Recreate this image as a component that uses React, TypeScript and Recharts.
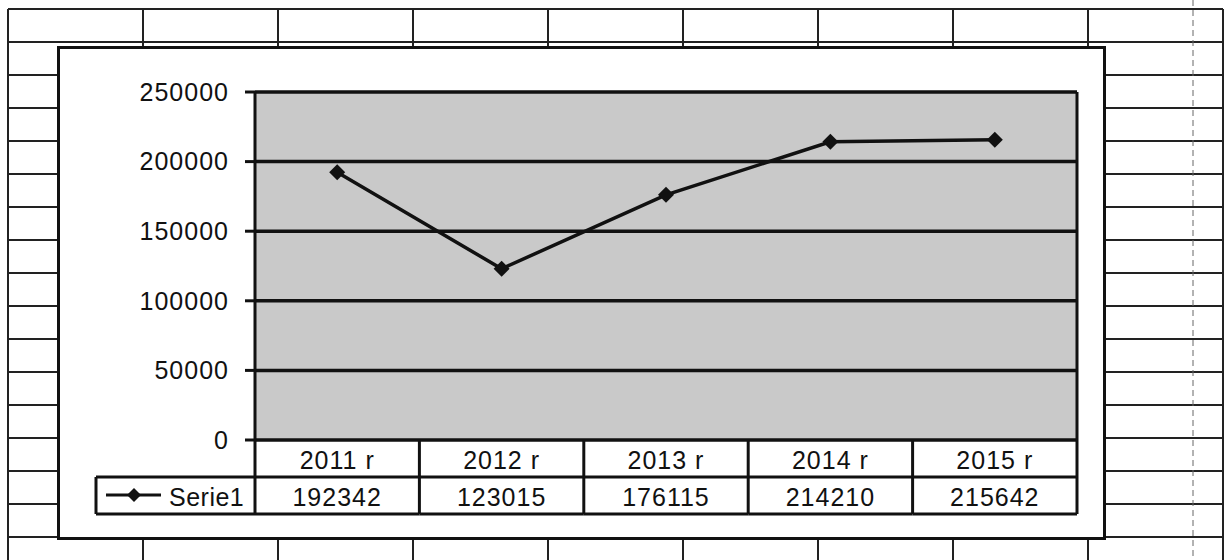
import { CartesianGrid, ComposedChart, Line, XAxis, YAxis } from 'recharts'

const years = ['2011 r', '2012 r', '2013 r', '2014 r', '2015 r']
const serie1 = [192342, 123015, 176115, 214210, 215642]
const yTicks = [0, 50000, 100000, 150000, 200000, 250000]
const seriesName = 'Serie1'

const data = years.map((year, i) => ({ year, value: serie1[i] }))

const FONT = '"Liberation Sans", Arial, sans-serif'
const INK = '#111'

// chart box on the page
const BOX_LEFT = 58
const BOX_TOP = 47
const BOX_W = 1044
const BOX_H = 489

const Y_AXIS_W = 197
const MARGIN = { top: 45, right: 24, left: 0, bottom: 22 }
const PLOT_W = BOX_W - Y_AXIS_W - MARGIN.right - 1
const COL_W = PLOT_W / years.length
const ROW_H = 37
const LEGEND_W = 159

function Diamond({ cx, cy, r = 8 }: { cx: number; cy: number; r?: number }) {
  return (
    <polygon
      points={`${cx},${cy - r} ${cx + r},${cy} ${cx},${cy + r} ${cx - r},${cy}`}
      fill={INK}
    />
  )
}

function TableTick(props: any) {
  const { x, y, index, payload } = props
  const half = COL_W / 2
  const left = x - half
  const right = x + half
  return (
    <g>
      <line x1={right} y1={y} x2={right} y2={y + ROW_H * 2} stroke={INK} strokeWidth={3} />
      <line x1={left} y1={y + ROW_H} x2={right} y2={y + ROW_H} stroke={INK} strokeWidth={3} />
      <line x1={left} y1={y + ROW_H * 2} x2={right} y2={y + ROW_H * 2} stroke={INK} strokeWidth={3} />
      <text x={x} y={y + 29} textAnchor="middle" fontSize={25} fontFamily={FONT} fill={INK} letterSpacing={1}>
        {payload.value}
      </text>
      <text x={x} y={y + ROW_H + 29} textAnchor="middle" fontSize={25} fontFamily={FONT} fill={INK} letterSpacing={1}>
        {serie1[index]}
      </text>
      {index === 0 && (
        <g>
          <line x1={left} y1={y} x2={left} y2={y + ROW_H * 2} stroke={INK} strokeWidth={3} />
          <line x1={left - LEGEND_W} y1={y + ROW_H} x2={left} y2={y + ROW_H} stroke={INK} strokeWidth={3} />
          <line x1={left - LEGEND_W} y1={y + ROW_H * 2} x2={left} y2={y + ROW_H * 2} stroke={INK} strokeWidth={3} />
          <line x1={left - LEGEND_W} y1={y + ROW_H} x2={left - LEGEND_W} y2={y + ROW_H * 2} stroke={INK} strokeWidth={3} />
          <line x1={left - LEGEND_W + 10} y1={y + ROW_H + 18} x2={left - LEGEND_W + 65} y2={y + ROW_H + 18} stroke={INK} strokeWidth={3} />
          <Diamond cx={left - LEGEND_W + 38} cy={y + ROW_H + 18} r={7} />
          <text x={left - LEGEND_W + 73} y={y + ROW_H + 29} fontSize={25} fontFamily={FONT} fill={INK} letterSpacing={0.5}>
            {seriesName}
          </text>
        </g>
      )}
    </g>
  )
}

function SheetGrid() {
  const rows = Array.from({ length: 17 }, (_, k) => 9 + 33 * k)
  const cols = Array.from({ length: 10 }, (_, k) => 8 + 135 * k)
  return (
    <svg width={1224} height={560} style={{ position: 'absolute', left: 0, top: 0 }}>
      {rows.map((y) => (
        <line key={`r${y}`} x1={8} y1={y} x2={1223} y2={y} stroke="#222" strokeWidth={2} />
      ))}
      {cols.map((x) => (
        <line key={`c${x}`} x1={x} y1={9} x2={x} y2={560} stroke="#222" strokeWidth={2} />
      ))}
      <line x1={1193} y1={0} x2={1193} y2={560} stroke="#666" strokeWidth={1} strokeDasharray="6 4" />
    </svg>
  )
}

export default function App() {
  return (
    <div
      style={{
        position: 'fixed',
        left: 0,
        top: 0,
        width: 1224,
        height: 560,
        background: '#fff',
        overflow: 'hidden',
        fontFamily: FONT,
      }}
    >
      <SheetGrid />
      <div
        style={{
          position: 'absolute',
          left: BOX_LEFT - 1,
          top: BOX_TOP - 1,
          width: BOX_W - 1,
          height: BOX_H - 1,
          border: `3px solid ${INK}`,
          background: '#fff',
        }}
      />
      <div style={{ position: 'absolute', left: BOX_LEFT, top: BOX_TOP }}>
        <ComposedChart width={BOX_W} height={BOX_H} data={data} margin={MARGIN}>
          <CartesianGrid
            yAxisId="left"
            vertical={false}
            stroke={INK}
            strokeWidth={3.5}
            fill="#c9c9c9"
            fillOpacity={1}
          />
          <XAxis
            dataKey="year"
            scale="point"
            padding={{ left: COL_W / 2, right: COL_W / 2 }}
            axisLine={false}
            tickLine={false}
            tickSize={0}
            tickMargin={0}
            height={74}
            interval={0}
            tick={(p: any) => <TableTick {...p} />}
          />
          <YAxis
            yAxisId="left"
            width={Y_AXIS_W}
            domain={[0, 250000]}
            ticks={yTicks}
            interval={0}
            axisLine={{ stroke: INK, strokeWidth: 3 }}
            tickLine={{ stroke: INK, strokeWidth: 3 }}
            tickSize={10}
            tickMargin={16}
            tick={{ fill: INK, fontSize: 25, fontFamily: FONT, letterSpacing: 1 }}
          />
          <YAxis
            yAxisId="right"
            orientation="right"
            width={1}
            domain={[0, 250000]}
            ticks={yTicks}
            tick={false}
            tickLine={false}
            axisLine={{ stroke: INK, strokeWidth: 3 }}
          />
          <Line
            yAxisId="left"
            dataKey="value"
            name={seriesName}
            stroke={INK}
            strokeWidth={3.5}
            isAnimationActive={false}
            dot={(p: any) => <Diamond key={p.index} cx={p.cx} cy={p.cy} r={8} />}
          />
        </ComposedChart>
      </div>
    </div>
  )
}
